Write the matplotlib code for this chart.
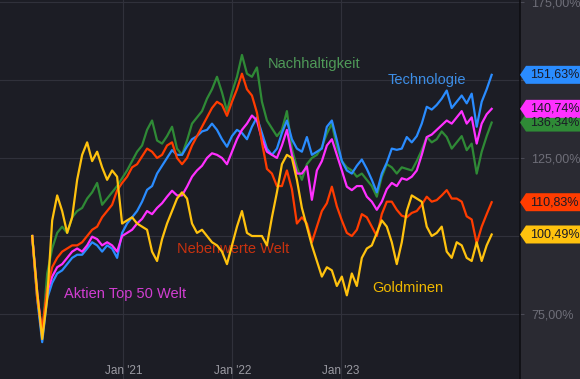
import matplotlib.pyplot as plt
import matplotlib.transforms as mtransforms
from matplotlib.patches import Polygon
import pandas as pd

dates = pd.date_range("2020-03-01", "2024-05-20", periods=93)

goldminen = [100, 82, 67, 80, 105, 113, 108, 101, 106, 118,
             126, 130, 124, 127, 122, 118, 121, 119, 104, 105,
             106, 104, 103, 102, 95, 92, 99, 104, 108, 112,
             114, 112, 104, 101, 102, 100, 98, 97, 95, 91,
             97, 103, 108, 101, 100, 100, 100, 97, 106, 114,
             123, 126, 125, 118, 109, 103, 97, 92, 87, 90,
             89, 84, 87, 81, 88, 84, 93, 96, 97, 101,
             105, 103, 98, 91, 98, 108, 113, 112, 111, 103,
             100, 101, 103, 95, 93, 98, 97, 93, 92, 98,
             92, 97, 100.49]

nebenwerte = [100, 80, 70, 83, 90, 93, 95, 96, 97, 97,
              98, 100, 102, 103, 106, 108, 110, 114.6, 117, 119,
              122, 123, 125.5, 128, 127, 125, 126, 129, 130, 125,
              123, 125, 129, 132, 135, 138, 141, 143, 142, 138.5,
              143, 147, 152, 147, 145, 139.5, 130, 121.5, 120, 116,
              116, 121, 115, 104, 106, 104, 98, 103, 108, 110.5,
              115.8, 109.5, 105, 101, 100, 102, 107, 106, 103, 100,
              107, 111, 111, 108.4, 106.5, 106, 107.4, 108, 110, 112.6,
              111, 111.5, 113, 114.7, 112, 112, 111, 106.3, 105.3, 97.6,
              103, 107, 110.83]

nachhaltigkeit = [100, 80, 68, 88, 96, 101, 103, 101, 106, 108,
                  109, 112, 114, 117, 110, 112, 114, 116, 118.5, 121,
                  124, 127, 129, 134, 137, 130.6, 129.6, 132, 135, 128,
                  126, 130.6, 136, 138, 140, 144, 147, 151, 146, 140,
                  146, 151, 158, 152, 151, 154, 143, 137, 134.5, 132,
                  134, 140, 128, 122, 118, 123, 125, 126, 128.5, 132.8,
                  136, 128.6, 124, 122, 121, 119, 120, 118, 116, 112.6,
                  119, 123, 122, 120, 122, 121.5, 121, 124, 127.5, 131.7,
                  130, 131, 133.5, 131.7, 128, 130, 132, 127.5, 129.6, 120,
                  127, 132, 136.34]

technologie = [100, 80, 66, 80, 85, 88, 89, 91, 93, 94,
               94, 96, 98, 97, 95, 97, 96, 93, 101, 104,
               106, 108, 111, 114.8, 116, 120, 122.5, 125, 127.5, 126,
               126, 128.7, 131, 132, 133.5, 134, 136, 134, 131, 128.6,
               132, 134, 133, 131, 135, 138, 133, 128, 126, 128,
               133, 137, 131, 128, 127, 131.7, 126, 127, 128, 135,
               137, 130.7, 124, 121, 120, 122.5, 124.5, 121.5, 118, 114,
               120, 123.5, 128, 127.6, 128, 131.7, 130, 132, 136, 141.4,
               140.5, 142, 144, 146.6, 141, 143, 145, 142.5, 145.6, 135,
               143, 147, 151.63]

aktien_top50 = [100, 82, 68, 82, 87, 90, 91, 93, 95, 96,
                95, 97, 99.8, 99, 97, 98, 97, 95, 100, 101,
                102, 104, 105.5, 108, 107, 109, 110.5, 112.6, 114.5, 113,
                113, 115.8, 119, 121, 122.5, 125, 126.5, 126, 125, 123,
                127, 131, 134, 136, 138.6, 137, 131, 127, 126, 125,
                129, 134, 126, 120, 120, 122.3, 111.6, 121, 124, 129,
                131, 126, 121, 115.8, 114.7, 116, 116, 112.6, 111, 108.4,
                111, 115, 117, 116, 118.5, 118, 119, 121, 126, 131.7,
                132.5, 134, 135.5, 137, 136, 138, 140, 136, 138, 129.6,
                136, 139, 140.74]

series = [
    ("Nachhaltigkeit", nachhaltigkeit, "#2f8a36", "#4f9a58", "2022-05-01", 155.0),
    ("Technologie", technologie, "#2a8cff", "#3d8ee6", "2023-06-05", 150.0),
    ("Aktien Top 50 Welt", aktien_top50, "#ff30ff", "#d23ed2", "2020-06-15", 81.5),
    ("Nebenwerte Welt", nebenwerte, "#ff3c00", "#c8320f", "2021-06-28", 95.8),
    ("Goldminen", goldminen, "#ffc20e", "#f0b800", "2023-04-17", 83.5),
]

# 100 % and 150 % sit behind the value tags in the original
yticks = [75, 100, 125, 150, 175]
ytick_labels = ["75,00%", "", "125,00%", "", "175,00%"]
xticks = pd.to_datetime(["2021-01-01", "2022-01-01", "2023-01-01"])
xtick_labels = ["Jan '21", "Jan '22", "Jan '23"]

plt.rcParams["font.family"] = ["Liberation Sans", "DejaVu Sans"]

fig = plt.figure(figsize=(5.8, 3.79), dpi=100)
fig.patch.set_facecolor("#2a2a32")
ax = fig.add_axes([0, 0, 520 / 580, 1])
ax.set_facecolor("#1c1d25")

for name, vals, color, tcolor, lx, ly in series:
    ax.plot(dates, vals, color=color, linewidth=1.6, zorder=3)
    ax.text(pd.Timestamp(lx), ly, name, color=tcolor, fontsize=10.5,
            va="center", ha="left", zorder=2)

ax.set_xlim(pd.Timestamp("2019-11-14"), pd.Timestamp("2024-08-23"))
ax.set_ylim(54.2, 175.6)

ax.set_yticks(yticks)
ax.set_yticklabels(ytick_labels)
ax.yaxis.tick_right()
ax.tick_params(axis="y", colors="#4a4a55", labelcolor="#6e6e78",
               labelsize=9, length=3, pad=5)
ax.set_xticks(xticks)
ax.set_xticklabels(xtick_labels)
ax.tick_params(axis="x", length=0, labelcolor="#9a9aa2", labelsize=8.5, pad=-10)
ax.grid(True, color="#30313b", linewidth=0.8, zorder=0)
ax.set_axisbelow(True)
for s in ["top", "left", "bottom"]:
    ax.spines[s].set_visible(False)
ax.spines["right"].set_color("#0e0e12")
ax.spines["right"].set_linewidth(1.2)

# value tags at the right edge
blend = mtransforms.blended_transform_factory(ax.transAxes, ax.transData)
for name, vals, color, tcolor, lx, ly in series:
    v = vals[-1]
    tr = fig.dpi_scale_trans + mtransforms.ScaledTranslation(1, v, blend)
    tag = Polygon([(0, 0), (0.06, 0.09), (0.7, 0.09), (0.7, -0.09), (0.06, -0.09)],
                  closed=True, facecolor=color, edgecolor="none",
                  transform=tr, clip_on=False, zorder=5)
    ax.add_patch(tag)
    ax.annotate(f"{v:.2f}".replace(".", ",") + "%", xy=(1, v), xycoords=blend,
                xytext=(7, 0), textcoords="offset points", va="center",
                ha="left", fontsize=9, color="#1a1a26", annotation_clip=False,
                zorder=6)

fig.savefig("out.png", dpi=100, facecolor=fig.get_facecolor())
